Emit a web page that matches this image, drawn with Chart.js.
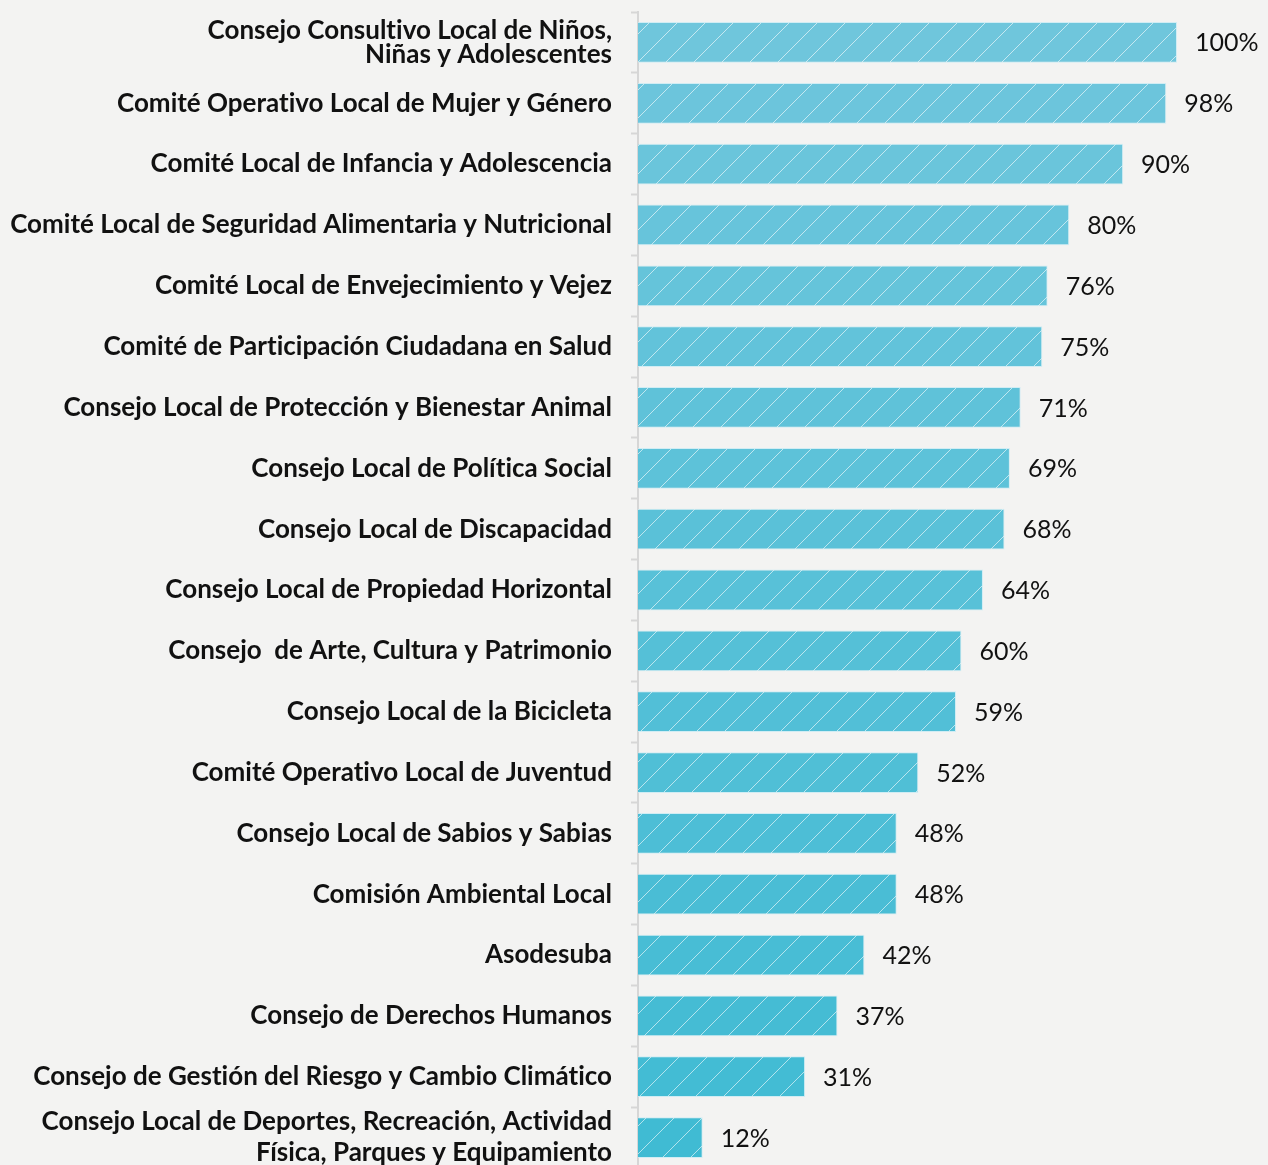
<!DOCTYPE html>
<html>
<head>
<meta charset="utf-8">
<script src="https://cdn.jsdelivr.net/npm/chart.js@4"></script>
<style>
  html, body { margin: 0; padding: 0; overflow: hidden; background: #f3f3f2; }
  #wrap { width: 1268px; height: 1172px; }
</style>
</head>
<body>
<div id="wrap"><canvas id="espaciosChart"></canvas></div>
<script>
// Participación por instancia (porcentaje)
var categorias = [
    ['Consejo Consultivo Local de Niños,', 'Niñas y Adolescentes'],
    'Comité Operativo Local de Mujer y Género',
    'Comité Local de Infancia y Adolescencia',
    'Comité Local de Seguridad Alimentaria y Nutricional',
    'Comité Local de Envejecimiento y Vejez',
    'Comité de Participación Ciudadana en Salud',
    'Consejo Local de Protección y Bienestar Animal',
    'Consejo Local de Política Social',
    'Consejo Local de Discapacidad',
    'Consejo Local de Propiedad Horizontal',
    'Consejo  de Arte, Cultura y Patrimonio',
    'Consejo Local de la Bicicleta',
    'Comité Operativo Local de Juventud',
    'Consejo Local de Sabios y Sabias',
    'Comisión Ambiental Local',
    'Asodesuba',
    'Consejo de Derechos Humanos',
    'Consejo de Gestión del Riesgo y Cambio Climático',
    ['Consejo Local de Deportes, Recreación, Actividad', 'Física, Parques y Equipamiento']
];
var porcentajes = [100, 98, 90, 80, 76, 75, 71, 69, 68, 64, 60, 59, 52, 48, 48, 42, 37, 31, 12];

var ctx = document.getElementById('espaciosChart').getContext('2d');

// color from light (top) to deeper cyan (bottom)
function barColor(i) {
    var t = i / (porcentajes.length - 1);
    var r = Math.round(111 + (64 - 111) * t);
    var g = Math.round(198 + (187 - 198) * t);
    var b = Math.round(220 + (211 - 220) * t);
    return 'rgb(' + r + ',' + g + ',' + b + ')';
}

// diagonal hatch on top of the fill
function hatchPattern(color) {
    var size = 28;
    var c = document.createElement('canvas');
    c.width = size;
    c.height = size;
    var p = c.getContext('2d');
    p.fillStyle = color;
    p.fillRect(0, 0, size, size);
    p.strokeStyle = 'rgba(255,255,255,0.6)';
    p.lineWidth = 1;
    p.beginPath();
    p.moveTo(-2, size + 2);
    p.lineTo(size + 2, -2);
    p.moveTo(-2, 2);
    p.lineTo(2, -2);
    p.moveTo(size - 2, size + 2);
    p.lineTo(size + 2, size - 2);
    p.stroke();
    return ctx.createPattern(c, 'repeat');
}

var fondos = porcentajes.map(function (v, i) { return hatchPattern(barColor(i)); });

// no "ti" ligature in the axis labels
var sinLigaduras = {
    id: 'sinLigaduras',
    beforeDraw: function (chart) {
        chart.ctx.textRendering = 'optimizeSpeed';
    }
};

// percentage text after each bar
var etiquetasValor = {
    id: 'etiquetasValor',
    afterDatasetsDraw: function (chart) {
        var c = chart.ctx;
        var meta = chart.getDatasetMeta(0);
        c.save();
        c.font = '25px Lato';
        c.fillStyle = '#111';
        c.textAlign = 'left';
        c.textBaseline = 'middle';
        meta.data.forEach(function (bar, i) {
            c.fillText(porcentajes[i] + '%', bar.x + 18, bar.y + 1);
        });
        c.restore();
    }
};

var espaciosChart = new Chart(ctx, {
    type: 'bar',
    data: {
        labels: categorias,
        datasets: [{
            data: porcentajes,
            backgroundColor: fondos,
            borderColor: 'rgba(200,235,244,0.8)',
            borderWidth: 1,
            borderSkipped: 'left',
            categoryPercentage: 1,
            barPercentage: 0.67
        }]
    },
    options: {
        indexAxis: 'y',
        responsive: true,
        maintainAspectRatio: false,
        animation: false,
        layout: {
            padding: { top: 12, right: 91, bottom: 4, left: 0 }
        },
        scales: {
            x: {
                display: false,
                min: 0,
                max: 100
            },
            y: {
                grid: {
                    drawOnChartArea: false,
                    tickLength: 7,
                    tickWidth: 2,
                    color: '#d6d6d6'
                },
                border: {
                    color: '#d6d6d6',
                    width: 2
                },
                ticks: {
                    autoSkip: false,
                    padding: 19,
                    color: '#111',
                    font: function (c) {
                        return {
                            family: 'Lato',
                            weight: 'bold',
                            size: 26,
                            lineHeight: c.index === 18 ? 1.19 : 0.92
                        };
                    }
                },
                afterFit: function (scale) {
                    scale.width = 638;
                    scale.paddingTop = 0;
                    scale.paddingBottom = 0;
                }
            }
        },
        plugins: {
            legend: { display: false },
            title: { display: false },
            tooltip: { enabled: false }
        }
    },
    plugins: [sinLigaduras, etiquetasValor]
});
</script>
</body>
</html>
